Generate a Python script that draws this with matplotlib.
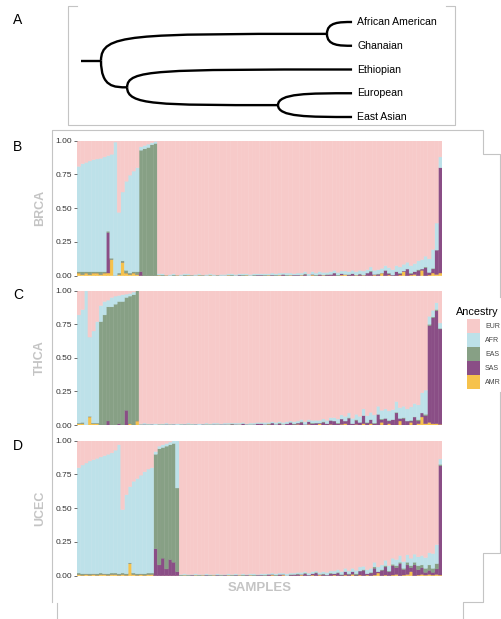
import numpy as np
import matplotlib
matplotlib.use('Agg')
import matplotlib.pyplot as plt
from matplotlib.path import Path
from matplotlib.patches import PathPatch, Rectangle

plt.rcParams['font.family'] = ['Liberation Sans', 'DejaVu Sans']

# --- дерево популяций (панель A) ---
leaves = ['African American', 'Ghanaian', 'Ethiopian', 'European', 'East Asian']
# узел: (дети, глубина от корня)
nodes = {
    'n1': ((0, 1), 0.90),
    'n2': ((3, 4), 0.705),
    'n3': ((2, 'n2'), 0.104),
    'root': (('n1', 'n3'), 0.0),
}
root_stub = 0.08

# --- доли предков по образцам ---
ancestry = ['EUR', 'AFR', 'EAS', 'SAS', 'AMR']
colors = {'EUR': '#F7CAC9', 'AFR': '#BDE1E9', 'EAS': '#87A085',
          'SAS': '#8A4E86', 'AMR': '#F6C24C'}

brca_afr = [0.78, 0.80, 0.81, 0.82, 0.83, 0.835, 0.84, 0.85, 0.56, 0.77,
            0.99, 0.45, 0.51, 0.66, 0.725, 0.745, 0.77, 0.025, 0.025, 0.025,
            0.015, 0.015, 0.01, 0.01, 0.0, 0.01, 0.01, 0.0, 0.01, 0.01,
            0.01, 0.0, 0.01, 0.01, 0.0, 0.01, 0.01, 0.01, 0.0, 0.01,
            0.01, 0.01, 0.01, 0.01, 0.01, 0.01, 0.01, 0.01, 0.01, 0.01,
            0.01, 0.01, 0.01, 0.015, 0.01, 0.015, 0.01, 0.015, 0.015, 0.01,
            0.015, 0.015, 0.015, 0.015, 0.02, 0.015, 0.02, 0.02, 0.015, 0.02,
            0.02, 0.02, 0.02, 0.025, 0.02, 0.025, 0.025, 0.025, 0.03, 0.025,
            0.03, 0.03, 0.03, 0.035, 0.035, 0.04, 0.04, 0.045, 0.045, 0.05,
            0.05, 0.055, 0.06, 0.065, 0.07, 0.08, 0.10, 0.14, 0.20, 0.08]
brca_eas = [0.01, 0.02, 0.01, 0.02, 0.01, 0.01, 0.02, 0.01, 0.01, 0.01,
            0.0, 0.01, 0.01, 0.02, 0.01, 0.01, 0.02, 0.90, 0.94, 0.95,
            0.97, 0.98, 0.0, 0.005, 0.0, 0.0, 0.005, 0.0, 0.0, 0.005,
            0.0, 0.005, 0.0, 0.0, 0.005, 0.0, 0.0, 0.0, 0.005, 0.0,
            0.0, 0.0, 0.005, 0.0, 0.0, 0.005, 0.0, 0.0, 0.005, 0.0,
            0.0, 0.005, 0.0, 0.0, 0.005, 0.0, 0.0, 0.005, 0.0, 0.0,
            0.0, 0.0, 0.005, 0.0, 0.0, 0.005, 0.0, 0.0, 0.005, 0.0,
            0.0, 0.005, 0.0, 0.0, 0.005, 0.0, 0.0, 0.005, 0.0, 0.0,
            0.005, 0.0, 0.005, 0.0, 0.0, 0.005, 0.0, 0.0, 0.005, 0.0,
            0.0, 0.005, 0.0, 0.005, 0.0, 0.005, 0.0, 0.005, 0.0, 0.0]
brca_sas = [0.0, 0.0, 0.0, 0.0, 0.0, 0.0, 0.0, 0.0, 0.30, 0.0,
            0.0, 0.0, 0.0, 0.0, 0.0, 0.0, 0.0, 0.03, 0.0, 0.0,
            0.0, 0.0, 0.0, 0.0, 0.0, 0.0, 0.0, 0.0, 0.0, 0.0,
            0.0, 0.0, 0.0, 0.0, 0.0, 0.0, 0.0, 0.0, 0.0, 0.0,
            0.0, 0.0, 0.0, 0.0, 0.005, 0.0, 0.0, 0.0, 0.0, 0.005,
            0.005, 0.0, 0.0, 0.005, 0.0, 0.0, 0.01, 0.0, 0.0, 0.005,
            0.005, 0.0, 0.01, 0.0, 0.005, 0.0, 0.01, 0.0, 0.005, 0.01,
            0.02, 0.0, 0.01, 0.0, 0.005, 0.015, 0.0, 0.01, 0.0, 0.02,
            0.03, 0.005, 0.01, 0.0, 0.04, 0.01, 0.005, 0.03, 0.01, 0.005,
            0.05, 0.01, 0.02, 0.04, 0.01, 0.06, 0.02, 0.03, 0.18, 0.78]
brca_amr = [0.02, 0.01, 0.02, 0.01, 0.02, 0.02, 0.01, 0.02, 0.02, 0.12,
            0.0, 0.01, 0.10, 0.02, 0.01, 0.02, 0.01, 0.0, 0.0, 0.0,
            0.0, 0.0, 0.005, 0.0, 0.005, 0.0, 0.0, 0.005, 0.0, 0.0,
            0.005, 0.0, 0.0, 0.005, 0.0, 0.0, 0.005, 0.0, 0.0, 0.0,
            0.0, 0.005, 0.0, 0.0, 0.0, 0.0, 0.005, 0.0, 0.0, 0.0,
            0.0, 0.0, 0.005, 0.0, 0.0, 0.005, 0.0, 0.0, 0.005, 0.0,
            0.0, 0.005, 0.0, 0.0, 0.005, 0.0, 0.0, 0.005, 0.0, 0.0,
            0.0, 0.0, 0.005, 0.01, 0.0, 0.0, 0.005, 0.0, 0.005, 0.0,
            0.0, 0.005, 0.0, 0.02, 0.0, 0.005, 0.0, 0.0, 0.005, 0.03,
            0.0, 0.005, 0.01, 0.0, 0.04, 0.0, 0.005, 0.02, 0.01, 0.02]

thca_afr = [0.805, 0.84, 1.0, 0.59, 0.685, 0.755, 0.12, 0.10, 0.05, 0.07,
            0.06, 0.045, 0.05, 0.025, 0.02, 0.02, 0.0, 0.005, 0.01, 0.005,
            0.005, 0.01, 0.005, 0.005, 0.01, 0.005, 0.005, 0.01, 0.005, 0.005,
            0.01, 0.005, 0.005, 0.01, 0.005, 0.01, 0.005, 0.01, 0.01, 0.005,
            0.01, 0.01, 0.005, 0.01, 0.01, 0.01, 0.005, 0.01, 0.01, 0.01,
            0.01, 0.015, 0.01, 0.01, 0.015, 0.01, 0.015, 0.015, 0.01, 0.015,
            0.015, 0.015, 0.02, 0.015, 0.02, 0.02, 0.02, 0.02, 0.025, 0.02,
            0.025, 0.03, 0.03, 0.035, 0.035, 0.04, 0.04, 0.045, 0.05, 0.05,
            0.055, 0.06, 0.06, 0.065, 0.07, 0.07, 0.075, 0.08, 0.08, 0.085,
            0.09, 0.10, 0.10, 0.11, 0.15, 0.18, 0.06, 0.05, 0.05, 0.04]
thca_eas = [0.005, 0.01, 0.0, 0.005, 0.005, 0.005, 0.77, 0.82, 0.85, 0.88,
            0.90, 0.91, 0.92, 0.84, 0.95, 0.97, 0.97, 0.0, 0.0, 0.005,
            0.0, 0.0, 0.0, 0.005, 0.0, 0.0, 0.0, 0.0, 0.005, 0.0,
            0.0, 0.005, 0.0, 0.0, 0.0, 0.0, 0.005, 0.0, 0.0, 0.0,
            0.0, 0.0, 0.005, 0.0, 0.0, 0.0, 0.0, 0.005, 0.0, 0.0,
            0.0, 0.0, 0.005, 0.0, 0.0, 0.005, 0.0, 0.0, 0.0, 0.005,
            0.0, 0.005, 0.0, 0.0, 0.005, 0.0, 0.0, 0.005, 0.0, 0.0,
            0.0, 0.005, 0.0, 0.0, 0.005, 0.0, 0.005, 0.0, 0.0, 0.005,
            0.0, 0.005, 0.0, 0.005, 0.0, 0.005, 0.0, 0.005, 0.0, 0.005,
            0.0, 0.005, 0.0, 0.01, 0.0, 0.01, 0.01, 0.005, 0.01, 0.005]
thca_sas = [0.0, 0.0, 0.0, 0.0, 0.0, 0.0, 0.0, 0.0, 0.03, 0.0,
            0.0, 0.01, 0.0, 0.11, 0.0, 0.0, 0.0, 0.0, 0.005, 0.0,
            0.005, 0.0, 0.0, 0.0, 0.005, 0.0, 0.005, 0.0, 0.0, 0.005,
            0.0, 0.0, 0.005, 0.0, 0.005, 0.0, 0.0, 0.005, 0.0, 0.005,
            0.005, 0.0, 0.005, 0.005, 0.0, 0.01, 0.005, 0.0, 0.005, 0.01,
            0.01, 0.005, 0.0, 0.015, 0.005, 0.01, 0.0, 0.01, 0.02, 0.005,
            0.01, 0.02, 0.005, 0.02, 0.01, 0.015, 0.005, 0.02, 0.01, 0.03,
            0.03, 0.01, 0.04, 0.02, 0.05, 0.01, 0.03, 0.02, 0.06, 0.015,
            0.03, 0.01, 0.08, 0.02, 0.05, 0.02, 0.04, 0.09, 0.02, 0.05,
            0.03, 0.01, 0.06, 0.02, 0.03, 0.06, 0.72, 0.79, 0.84, 0.71]
thca_amr = [0.01, 0.01, 0.0, 0.06, 0.01, 0.01, 0.0, 0.0, 0.0, 0.0,
            0.0, 0.0, 0.0, 0.0, 0.01, 0.0, 0.03, 0.005, 0.0, 0.0,
            0.0, 0.0, 0.005, 0.0, 0.0, 0.005, 0.0, 0.0, 0.0, 0.0,
            0.005, 0.0, 0.0, 0.0, 0.0, 0.005, 0.0, 0.0, 0.005, 0.0,
            0.0, 0.005, 0.0, 0.0, 0.005, 0.0, 0.0, 0.0, 0.0, 0.0,
            0.0, 0.0, 0.005, 0.0, 0.0, 0.0, 0.005, 0.0, 0.0, 0.0,
            0.005, 0.0, 0.0, 0.005, 0.0, 0.0, 0.01, 0.0, 0.0, 0.005,
            0.0, 0.0, 0.005, 0.01, 0.0, 0.0, 0.005, 0.0, 0.01, 0.0,
            0.01, 0.0, 0.0, 0.02, 0.0, 0.01, 0.0, 0.0, 0.03, 0.0,
            0.0, 0.02, 0.0, 0.01, 0.06, 0.01, 0.02, 0.01, 0.01, 0.005]

ucec_afr = [0.78, 0.805, 0.82, 0.835, 0.845, 0.855, 0.86, 0.875, 0.885, 0.89,
            0.91, 0.955, 0.47, 0.585, 0.565, 0.68, 0.705, 0.73, 0.755, 0.77,
            0.78, 0.02, 0.02, 0.02, 0.02, 0.02, 0.02, 0.35, 0.005, 0.01,
            0.005, 0.005, 0.01, 0.005, 0.005, 0.01, 0.005, 0.005, 0.01, 0.005,
            0.005, 0.01, 0.005, 0.01, 0.005, 0.01, 0.005, 0.01, 0.01, 0.005,
            0.01, 0.01, 0.005, 0.01, 0.01, 0.01, 0.01, 0.015, 0.01, 0.01,
            0.01, 0.015, 0.01, 0.015, 0.015, 0.01, 0.015, 0.015, 0.02, 0.015,
            0.02, 0.02, 0.02, 0.025, 0.02, 0.025, 0.025, 0.03, 0.025, 0.03,
            0.03, 0.035, 0.035, 0.035, 0.04, 0.04, 0.045, 0.045, 0.05, 0.05,
            0.055, 0.055, 0.06, 0.065, 0.07, 0.08, 0.09, 0.11, 0.14, 0.04]
ucec_eas = [0.01, 0.01, 0.005, 0.01, 0.005, 0.01, 0.01, 0.005, 0.01, 0.01,
            0.01, 0.01, 0.01, 0.01, 0.005, 0.01, 0.01, 0.005, 0.01, 0.01,
            0.01, 0.70, 0.86, 0.82, 0.91, 0.85, 0.88, 0.62, 0.005, 0.0,
            0.005, 0.0, 0.0, 0.005, 0.0, 0.0, 0.005, 0.0, 0.0, 0.005,
            0.0, 0.0, 0.005, 0.0, 0.0, 0.005, 0.0, 0.0, 0.005, 0.0,
            0.0, 0.005, 0.0, 0.0, 0.005, 0.0, 0.0, 0.0, 0.005, 0.0,
            0.005, 0.0, 0.005, 0.0, 0.0, 0.005, 0.0, 0.005, 0.0, 0.005,
            0.0, 0.005, 0.005, 0.0, 0.005, 0.0, 0.01, 0.0, 0.005, 0.0,
            0.005, 0.01, 0.0, 0.005, 0.01, 0.005, 0.01, 0.015, 0.01, 0.01,
            0.02, 0.015, 0.02, 0.03, 0.02, 0.03, 0.04, 0.03, 0.04, 0.01]
ucec_sas = [0.0, 0.0, 0.0, 0.0, 0.0, 0.0, 0.0, 0.0, 0.0, 0.0,
            0.0, 0.0, 0.0, 0.0, 0.0, 0.0, 0.0, 0.0, 0.0, 0.0,
            0.0, 0.20, 0.08, 0.13, 0.05, 0.12, 0.10, 0.03, 0.0, 0.0,
            0.0, 0.005, 0.0, 0.0, 0.0, 0.005, 0.0, 0.0, 0.005, 0.0,
            0.005, 0.0, 0.0, 0.005, 0.0, 0.0, 0.005, 0.0, 0.0, 0.005,
            0.005, 0.0, 0.01, 0.005, 0.0, 0.01, 0.005, 0.0, 0.005, 0.01,
            0.01, 0.005, 0.015, 0.005, 0.01, 0.02, 0.005, 0.01, 0.005, 0.015,
            0.01, 0.02, 0.005, 0.025, 0.01, 0.02, 0.005, 0.03, 0.04, 0.01,
            0.02, 0.05, 0.01, 0.04, 0.06, 0.03, 0.07, 0.05, 0.09, 0.04,
            0.07, 0.03, 0.08, 0.04, 0.05, 0.02, 0.03, 0.02, 0.04, 0.81]
ucec_amr = [0.01, 0.005, 0.01, 0.005, 0.01, 0.005, 0.01, 0.01, 0.005, 0.01,
            0.01, 0.005, 0.01, 0.005, 0.09, 0.01, 0.005, 0.01, 0.005, 0.01,
            0.01, 0.0, 0.0, 0.0, 0.0, 0.0, 0.0, 0.0, 0.0, 0.005,
            0.0, 0.0, 0.005, 0.0, 0.005, 0.0, 0.0, 0.005, 0.0, 0.0,
            0.0, 0.005, 0.0, 0.0, 0.005, 0.0, 0.0, 0.005, 0.0, 0.0,
            0.0, 0.0, 0.0, 0.005, 0.0, 0.0, 0.005, 0.0, 0.0, 0.0,
            0.0, 0.005, 0.0, 0.0, 0.005, 0.0, 0.005, 0.0, 0.0, 0.0,
            0.005, 0.0, 0.0, 0.005, 0.0, 0.01, 0.0, 0.005, 0.0, 0.005,
            0.0, 0.005, 0.02, 0.0, 0.005, 0.0, 0.005, 0.01, 0.0, 0.005,
            0.01, 0.03, 0.0, 0.005, 0.01, 0.005, 0.01, 0.005, 0.01, 0.005]

panels = [
    ('B', 'BRCA', brca_afr, brca_eas, brca_sas, brca_amr),
    ('C', 'THCA', thca_afr, thca_eas, thca_sas, thca_amr),
    ('D', 'UCEC', ucec_afr, ucec_eas, ucec_sas, ucec_amr),
]

# --- раскладка в пикселях ---
W, H = 502, 619
grey = '#c4c4c4'
fig = plt.figure(figsize=(W / 100, H / 100), dpi=100)


def px_axes(x0, y0, x1, y1):
    return fig.add_axes([x0 / W, 1 - y1 / H, (x1 - x0) / W, (y1 - y0) / H])


# панель A: дерево
ax_t = px_axes(68, 6, 455, 125)
ax_t.set_xlim(-0.1315, 1.410)
ax_t.set_ylim(4.337, -0.674)
ax_t.axis('off')

pos = {i: (1.0, float(i)) for i in range(len(leaves))}


def place(key):
    if key in pos:
        return pos[key]
    kids, depth = nodes[key]
    ys = [place(k)[1] for k in kids]
    pos[key] = (depth, float(np.mean(ys)))
    return pos[key]


place('root')


def branch(p, c):
    xp, yp = p
    xc, yc = c
    a = min(0.12, 0.5 * (xc - xp))
    verts = [(xp, yp), (xp, yc), (xp + a, yc), (xc, yc)]
    codes = [Path.MOVETO, Path.CURVE4, Path.CURVE4, Path.CURVE4]
    ax_t.add_patch(PathPatch(Path(verts, codes), fill=False, lw=1.7,
                             edgecolor='black', capstyle='butt'))


for key, (kids, depth) in nodes.items():
    for k in kids:
        branch(pos[key], pos[k])
rx, ry = pos['root']
ax_t.plot([rx - root_stub, rx], [ry, ry], color='black', lw=1.7,
          solid_capstyle='butt')
for i, name in enumerate(leaves):
    ax_t.text(1.02, i, name, fontsize=7.6, va='center', ha='left')

# панели B-D: доли предков
tops = {'B': (140.7, 275.7), 'C': (290.7, 425.0), 'D': (440.7, 575.7)}
for letter, name, afr, eas, sas, amr in panels:
    y0, y1 = tops[letter]
    ax = px_axes(77, y0, 442, y1)
    afr, eas, sas, amr = (np.array(v) for v in (afr, eas, sas, amr))
    eur = np.clip(1 - (afr + eas + sas + amr), 0, None)
    x = np.arange(len(afr))
    bottom = np.zeros(len(afr))
    for key, vals in [('AMR', amr), ('SAS', sas), ('EAS', eas),
                      ('AFR', afr), ('EUR', eur)]:
        ax.bar(x, vals, bottom=bottom, width=1.0, color=colors[key],
               edgecolor=colors[key], linewidth=0.3, snap=False)
        bottom = bottom + vals
    ax.set_xlim(-0.5, len(afr) - 0.5)
    ax.set_ylim(0, 1)
    ax.set_xticks([])
    ax.set_yticks([0, 0.25, 0.5, 0.75, 1.0])
    ax.set_yticklabels(['0.00', '0.25', '0.50', '0.75', '1.00'])
    ax.tick_params(axis='y', labelsize=6, length=2, width=0.6, pad=1.5,
                   color='#555555', labelcolor='#333333')
    for s in ax.spines.values():
        s.set_visible(False)

# оверлей: рамки, подписи, легенда
ov = fig.add_axes([0, 0, 1, 1])
ov.set_xlim(0, W)
ov.set_ylim(H, 0)
ov.axis('off')

frames = [
    [(77, 6), (68, 6), (68, 125), (455, 125), (455, 6), (446, 6)],
    [(52, 602), (52, 130), (483, 130), (483, 154), (500, 154), (500, 297)],
    [(500, 392), (500, 553), (483, 553), (483, 602), (463, 602), (463, 619)],
    [(57, 603), (57, 619)],
]
for fr in frames:
    xs, ys = zip(*fr)
    ov.plot(xs, ys, color=grey, lw=0.8)

for letter, ypx in [('A', 20), ('B', 147), ('C', 295), ('D', 446)]:
    ov.text(18, ypx, letter, fontsize=10, ha='center', va='center')

for letter, name, *_ in panels:
    y0, y1 = tops[letter]
    ov.text(40, (y0 + y1) / 2, name, rotation=90, fontsize=9, fontweight='bold',
            color=grey, ha='center', va='center')
ov.text(259.5, 588, 'SAMPLES', fontsize=9.5, fontweight='bold', color=grey,
        ha='center', va='center')

ov.text(456, 312, 'Ancestry', fontsize=7.8, ha='left', va='center')
for i, key in enumerate(ancestry):
    yk = 319.3 + 14 * i
    ov.add_patch(Rectangle((467, yk), 13, 13.4, facecolor=colors[key],
                           edgecolor='none'))
    ov.text(485, yk + 7, key, fontsize=5, color='#444444', ha='left',
            va='center')

fig.savefig('out.png', dpi=100)
